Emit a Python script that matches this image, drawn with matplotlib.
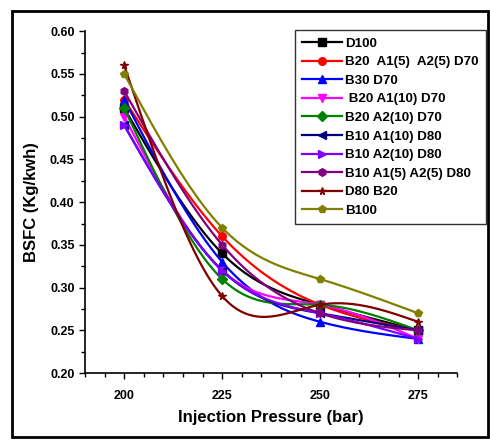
import numpy as np
import matplotlib.pyplot as plt
from matplotlib.patches import Rectangle
from matplotlib.ticker import MultipleLocator

plt.rcParams['font.family'] = ['Liberation Sans', 'DejaVu Sans']
plt.rcParams['font.weight'] = 'bold'

pressure = [200, 225, 250, 275]

labels = ['D100', 'B20  A1(5)  A2(5) D70', 'B30 D70', ' B20 A1(10) D70',
          'B20 A2(10) D70', 'B10 A1(10) D80', 'B10 A2(10) D80',
          'B10 A1(5) A2(5) D80', 'D80 B20', 'B100']

d100 = [0.51, 0.34, 0.28, 0.25]
b20_a1a2 = [0.52, 0.36, 0.28, 0.25]
b30 = [0.52, 0.33, 0.26, 0.24]
b20_a1 = [0.50, 0.32, 0.28, 0.24]
b20_a2 = [0.51, 0.31, 0.28, 0.25]
b10_a1 = [0.49, 0.32, 0.27, 0.25]
b10_a2 = [0.49, 0.32, 0.27, 0.24]
b10_a1a2 = [0.53, 0.35, 0.27, 0.25]
d80_b20 = [0.56, 0.29, 0.28, 0.26]
b100 = [0.55, 0.37, 0.31, 0.27]

series = [d100, b20_a1a2, b30, b20_a1, b20_a2, b10_a1, b10_a2, b10_a1a2, d80_b20, b100]
colors = ['#000000', '#ff0000', '#0000ff', '#ff00ff', '#008000', '#000080',
          '#8000ff', '#800080', '#800000', '#808000']
markers = ['s', 'o', '^', 'v', 'D', '<', '>', 'h', '*', 'p']


def spline(x, y, n=200):
    # natural cubic spline, just for drawing the smooth connecting line
    x = np.asarray(x, float)
    y = np.asarray(y, float)
    k = len(x)
    h = np.diff(x)
    A = np.zeros((k, k))
    b = np.zeros(k)
    A[0, 0] = A[-1, -1] = 1
    for i in range(1, k - 1):
        A[i, i - 1] = h[i - 1]
        A[i, i] = 2 * (h[i - 1] + h[i])
        A[i, i + 1] = h[i]
        b[i] = 6 * ((y[i + 1] - y[i]) / h[i] - (y[i] - y[i - 1]) / h[i - 1])
    M = np.linalg.solve(A, b)
    xs = np.linspace(x[0], x[-1], n)
    ys = np.empty_like(xs)
    for j, xv in enumerate(xs):
        i = min(np.searchsorted(x, xv, side='right') - 1, k - 2)
        t1 = x[i + 1] - xv
        t0 = xv - x[i]
        ys[j] = (M[i] * t1 ** 3 + M[i + 1] * t0 ** 3) / (6 * h[i]) \
            + (y[i] / h[i] - M[i] * h[i] / 6) * t1 \
            + (y[i + 1] / h[i] - M[i + 1] * h[i] / 6) * t0
    return xs, ys


fig = plt.figure(figsize=(4.9, 4.4), dpi=100)
ax = fig.add_axes([0.1735, 0.152, 0.76, 0.777])

for vals, c, m, lab in zip(series, colors, markers, labels):
    xs, ys = spline(pressure, vals)
    ax.plot(xs, ys, color=c, lw=1.6)
    ax.plot(pressure, vals, ls='none', marker=m, color=c, ms=5.5)
    ax.plot([], [], color=c, marker=m, lw=1.6, ms=5.5, label=lab)

ax.set_xlim(190, 285)
ax.set_ylim(0.20, 0.60)
ax.set_xticks(pressure)
ax.xaxis.set_minor_locator(MultipleLocator(5))
ax.yaxis.set_major_locator(MultipleLocator(0.05))
ax.yaxis.set_minor_locator(MultipleLocator(0.025))
ax.yaxis.set_major_formatter(plt.FormatStrFormatter('%.2f'))
ax.tick_params(direction='out', length=4, width=1, labelsize=9)
ax.tick_params(axis='x', pad=8)
ax.tick_params(which='minor', direction='out', length=3, width=1)
for s in ['top', 'right']:
    ax.spines[s].set_visible(False)
ax.spines['left'].set_linewidth(1.2)
ax.spines['bottom'].set_linewidth(1.2)

ax.set_xlabel('Injection Pressure (bar)', fontsize=12, fontweight='bold', labelpad=6)
ax.set_ylabel('BSFC (Kg/kwh)', fontsize=12, fontweight='bold', labelpad=8)

leg = ax.legend(loc='upper left', bbox_to_anchor=(295 / 490, 1 - 30 / 440),
                bbox_transform=fig.transFigure, fontsize=9.6, frameon=True,
                fancybox=False, edgecolor='black', handlelength=3.0,
                labelspacing=0.47, borderpad=0.55, handletextpad=0.2,
                borderaxespad=0)
leg.get_frame().set_linewidth(1.0)
for t in leg.get_texts():
    t.set_fontweight('bold')

fig.patches.append(Rectangle((12 / 490, 3 / 440), 476 / 490, 426 / 440,
                             transform=fig.transFigure, fill=False,
                             edgecolor='black', lw=2))

fig.savefig('out.png', dpi=100)
